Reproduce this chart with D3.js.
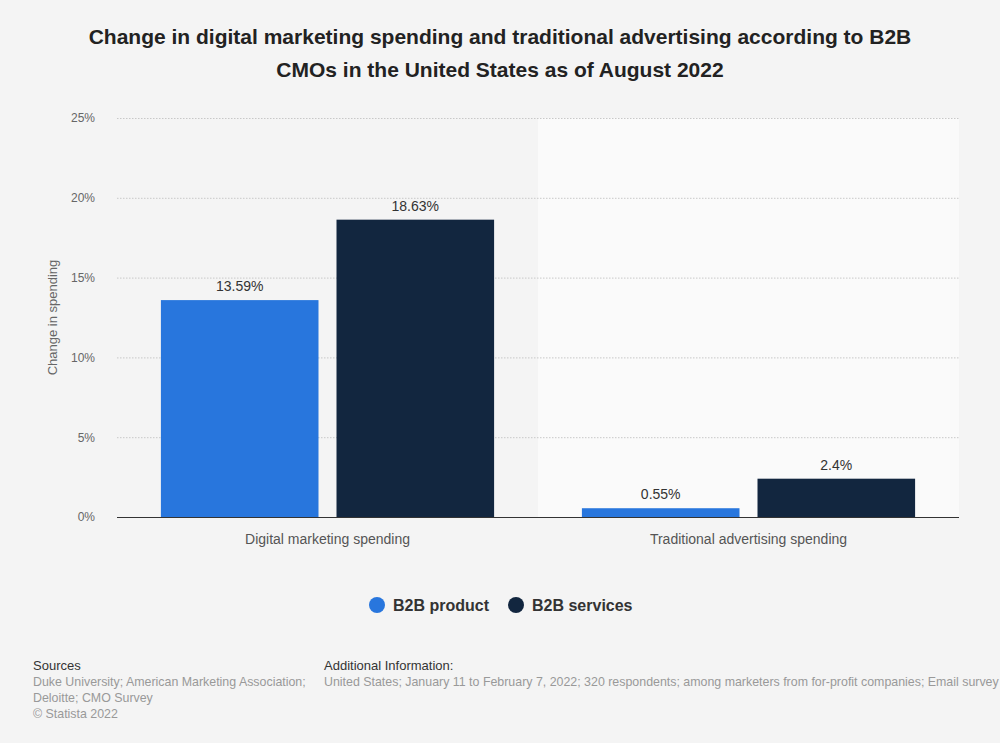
<!DOCTYPE html>
<html><head><meta charset="utf-8">
<script src="https://cdn.jsdelivr.net/npm/d3@7"></script>
<style>body{margin:0;background:#f4f4f4;}svg{display:block;font-family:"Liberation Sans",Arial,sans-serif;}</style>
</head><body>
<svg id="c" width="1000" height="743"></svg>
<script>
const categories = ["Digital marketing spending", "Traditional advertising spending"];
const seriesNames = ["B2B product", "B2B services"];
const productValues = [13.59, 0.55];
const servicesValues = [18.63, 2.4];
const valueLabels = [["13.59%", "18.63%"], ["0.55%", "2.4%"]];
const yTicks = [0, 5, 10, 15, 20, 25];
const colors = ["#2876dd", "#12263f"];

const svg = d3.select("#c");
svg.append("rect").attr("width",1000).attr("height",743).attr("fill","#f4f4f4");

const m = {l:117, r:959, t:118, b:517};
const x = d3.scaleBand().domain(categories).range([m.l, m.r]).paddingInner(0).paddingOuter(0);
const xs = d3.scaleBand().domain(seriesNames).range([0, x.bandwidth()]).paddingInner(0.1026).paddingOuter(0.25);
const y = d3.scaleLinear().domain([0,25]).range([m.b, m.t]);

// alternate band bg
svg.append("rect").attr("x", x(categories[1])).attr("y", y(25)).attr("width", x.bandwidth()).attr("height", y(0)-y(25)).attr("fill","#fafafa");

// title
const title = svg.append("text").attr("x",500).attr("text-anchor","middle").attr("font-weight","bold").attr("font-size",21).attr("fill","#222");
title.append("tspan").attr("x",500).attr("y",44).text("Change in digital marketing spending and traditional advertising according to B2B");
title.append("tspan").attr("x",500).attr("y",77).text("CMOs in the United States as of August 2022");

// grid
const yAxis = d3.axisLeft(y).tickValues(yTicks).tickFormat(d=>d+"%").tickSize(0).tickPadding(22);
const g = svg.append("g").attr("transform",`translate(${m.l},0)`).call(yAxis);
g.select(".domain").remove();
g.selectAll("text").attr("font-size",12).attr("fill","#666").attr("font-family","Liberation Sans, Arial, sans-serif");
svg.append("g").selectAll("line").data(yTicks.filter(d=>d>0)).join("line")
  .attr("x1",m.l).attr("x2",m.r).attr("y1",d=>y(d)+0.5).attr("y2",d=>y(d)+0.5)
  .attr("stroke","#c8c8c8").attr("stroke-dasharray","1.5,1.5");

svg.append("text").attr("transform",`translate(57,${(m.t+m.b)/2}) rotate(-90)`).attr("text-anchor","middle")
  .attr("font-size",13).attr("fill","#666").text("Change in spending");

// bars
const data = categories.map((c,i)=>({c, vals:[productValues[i], servicesValues[i]], labels:valueLabels[i]}));
data.forEach(d=>{
  d.vals.forEach((v,j)=>{
    const bx = x(d.c)+xs(seriesNames[j]);
    svg.append("rect").attr("x",bx).attr("y",y(v)).attr("width",xs.bandwidth()).attr("height",y(0)-y(v)).attr("fill",colors[j]);
    svg.append("text").attr("x",bx+xs.bandwidth()/2).attr("y",y(v)-9).attr("text-anchor","middle")
      .attr("font-size",14).attr("fill","#333").text(d.labels[j]);
  });
});

// baseline
svg.append("line").attr("x1",m.l).attr("x2",m.r).attr("y1",y(0)+0.5).attr("y2",y(0)+0.5).attr("stroke","#333").attr("stroke-width",1);

// x labels
const xAxis = d3.axisBottom(x).tickSize(0).tickPadding(17);
const gx = svg.append("g").attr("transform",`translate(0,${m.b})`).call(xAxis);
gx.select(".domain").remove();
gx.selectAll("text").attr("font-size",14).attr("fill","#555").attr("font-family","Liberation Sans, Arial, sans-serif");

// legend
const legX = [377, 516];
seriesNames.forEach((s,i)=>{
  svg.append("circle").attr("cx",legX[i]).attr("cy",605).attr("r",8).attr("fill",colors[i]);
  svg.append("text").attr("x",legX[i]+16).attr("y",611).attr("font-size",16).attr("font-weight","bold").attr("fill","#333").text(s);
});

// footer
svg.append("text").attr("x",33).attr("y",670).attr("font-size",13).attr("fill","#333").text("Sources");
const src = ["Duke University; American Marketing Association;","Deloitte; CMO Survey","© Statista 2022"];
src.forEach((t,i)=>svg.append("text").attr("x",33).attr("y",686+i*16).attr("font-size",12.4).attr("fill","#999").text(t));
svg.append("text").attr("x",324).attr("y",670).attr("font-size",13).attr("fill","#333").text("Additional Information:");
svg.append("text").attr("x",324).attr("y",686).attr("font-size",12.4).attr("fill","#999").text("United States; January 11 to February 7, 2022; 320 respondents; among marketers from for-profit companies; Email survey");
</script>
</body></html>
